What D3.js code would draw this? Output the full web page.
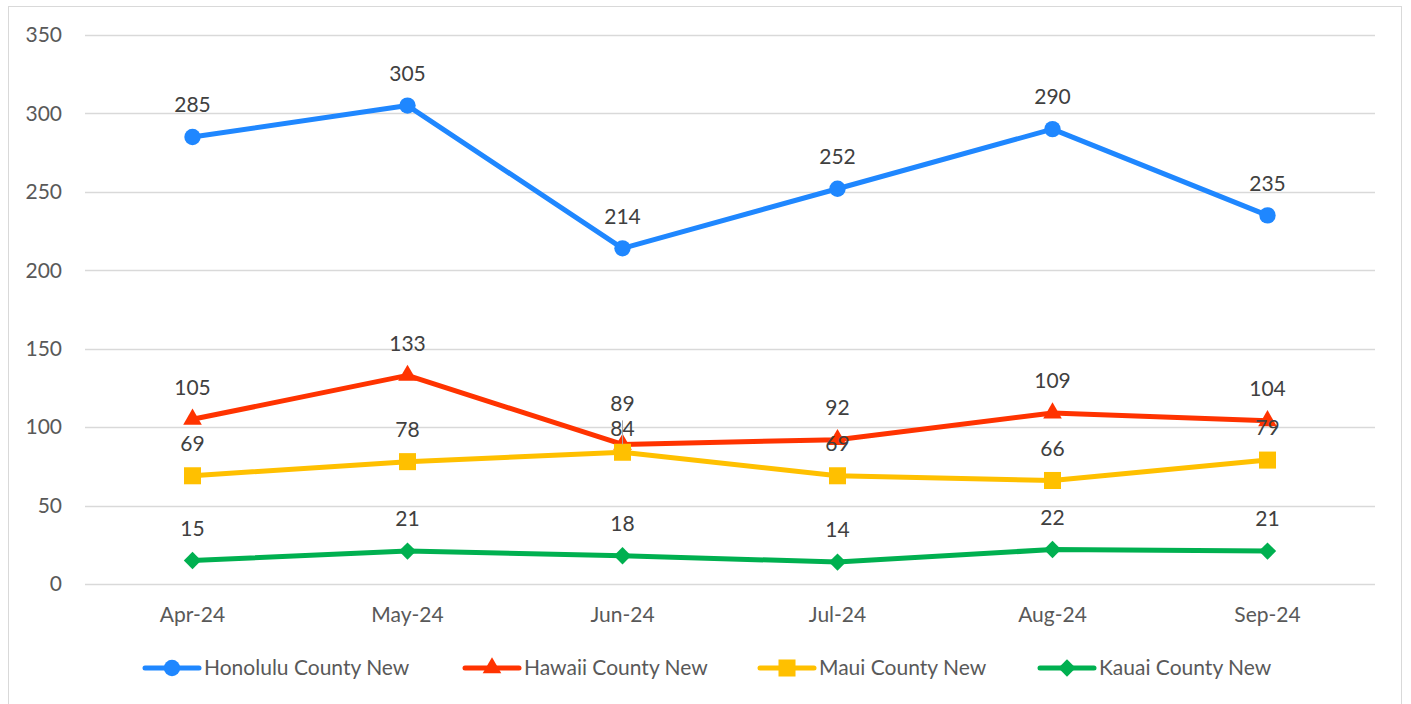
<!DOCTYPE html>
<html>
<head>
<meta charset="utf-8">
<script src="https://cdn.jsdelivr.net/npm/d3@7"></script>
<style>
  body { margin: 0; background: #fff; }
  svg text { font-family: Lato, "Open Sans", sans-serif; }
</style>
</head>
<body>
<div id="chart"></div>
<script>
const months = ["Apr-24", "May-24", "Jun-24", "Jul-24", "Aug-24", "Sep-24"];
const honolulu = [285, 305, 214, 252, 290, 235];
const hawaii = [105, 133, 89, 92, 109, 104];
const maui = [69, 78, 84, 69, 66, 79];
const kauai = [15, 21, 18, 14, 22, 21];
const yTicks = [0, 50, 100, 150, 200, 250, 300, 350];

const seriesList = [
  { name: "Honolulu County New", values: honolulu, color: "#1F87FF", symbol: "circle" },
  { name: "Hawaii County New", values: hawaii, color: "#FF3300", symbol: "triangle" },
  { name: "Maui County New", values: maui, color: "#FFC000", symbol: "square" },
  { name: "Kauai County New", values: kauai, color: "#00B050", symbol: "diamond" }
];

const W = 1411, H = 704;
const svg = d3.select("#chart").append("svg")
  .attr("width", W).attr("height", H);

// chart frame
svg.append("rect")
  .attr("x", 8.5).attr("y", 6.5)
  .attr("width", 1393).attr("height", 705)
  .attr("fill", "#fff").attr("stroke", "#d9d9d9");

const x = d3.scaleBand().domain(months).range([85, 1375]);
const y = d3.scaleLinear().domain([0, 350]).range([584, 35]);
const cx = d => x(d) + x.bandwidth() / 2;

// gridlines
svg.append("g")
  .selectAll("line")
  .data(yTicks)
  .enter().append("line")
    .attr("x1", 85).attr("x2", 1375)
    .attr("y1", d => Math.round(y(d)) + 0.5)
    .attr("y2", d => Math.round(y(d)) + 0.5)
    .attr("stroke", "#d9d9d9").attr("stroke-width", 1.5);

// y tick labels
svg.append("g")
  .selectAll("text")
  .data(yTicks)
  .enter().append("text")
    .attr("x", 62).attr("y", d => y(d))
    .attr("dy", "0.35em")
    .attr("text-anchor", "end")
    .attr("font-size", 21)
    .attr("fill", "#595959")
    .text(d => d);

// x labels
svg.append("g")
  .selectAll("text")
  .data(months)
  .enter().append("text")
    .attr("x", d => cx(d)).attr("y", 615)
    .attr("dy", "0.35em")
    .attr("text-anchor", "middle")
    .attr("font-size", 21)
    .attr("fill", "#595959")
    .text(d => d);

const symbolType = {
  circle: d3.symbolCircle,
  triangle: d3.symbolTriangle,
  square: d3.symbolSquare,
  diamond: d3.symbolSquare
};
const symbolSize = { circle: 210, triangle: 150, square: 290, diamond: 150 };
const symbolRotate = { circle: 0, triangle: 0, square: 0, diamond: 45 };

const line = d3.line()
  .x((d, i) => cx(months[i]))
  .y(d => y(d));

seriesList.forEach(function(s) {
  svg.append("path")
    .datum(s.values)
    .attr("d", line)
    .attr("fill", "none")
    .attr("stroke", s.color)
    .attr("stroke-width", 5)
    .attr("stroke-linejoin", "round");
  svg.append("g")
    .selectAll("path")
    .data(s.values)
    .enter().append("path")
      .attr("transform", (d, i) => `translate(${cx(months[i])},${y(d)}) rotate(${symbolRotate[s.symbol]})`)
      .attr("d", d3.symbol().type(symbolType[s.symbol]).size(symbolSize[s.symbol]))
      .attr("fill", s.color);
});

// leader line for the moved Jun label
svg.append("line")
  .attr("x1", cx("Jun-24")).attr("x2", cx("Jun-24"))
  .attr("y1", y(hawaii[2]) - 24).attr("y2", y(hawaii[2]))
  .attr("stroke", "#a6a6a6").attr("stroke-width", 1);

// data labels (Jun labels were dragged in the original)
const nudge = { "Hawaii County New|Jun-24": -9, "Maui County New|Jun-24": 8 };
seriesList.forEach(function(s) {
  svg.append("g")
    .selectAll("text")
    .data(s.values)
    .enter().append("text")
      .attr("x", (d, i) => cx(months[i]))
      .attr("y", (d, i) => y(d) - 32 + (nudge[s.name + "|" + months[i]] || 0))
      .attr("dy", "0.35em")
      .attr("text-anchor", "middle")
      .attr("font-size", 21)
      .attr("fill", "#404040")
      .text(d => d);
});

// legend
const legendX = [145, 465, 760, 1040];
const legend = svg.append("g");
seriesList.forEach(function(s, i) {
  const g = legend.append("g").attr("transform", `translate(${legendX[i]},668)`);
  g.append("line")
    .attr("x1", 0).attr("x2", 54)
    .attr("stroke", s.color).attr("stroke-width", 5)
    .attr("stroke-linecap", "round");
  g.append("path")
    .attr("transform", `translate(27,0) rotate(${symbolRotate[s.symbol]})`)
    .attr("d", d3.symbol().type(symbolType[s.symbol]).size(symbolSize[s.symbol]))
    .attr("fill", s.color);
  g.append("text")
    .attr("x", 59).attr("dy", "0.35em")
    .attr("font-size", 21)
    .attr("fill", "#595959")
    .text(s.name);
});
</script>
</body>
</html>
